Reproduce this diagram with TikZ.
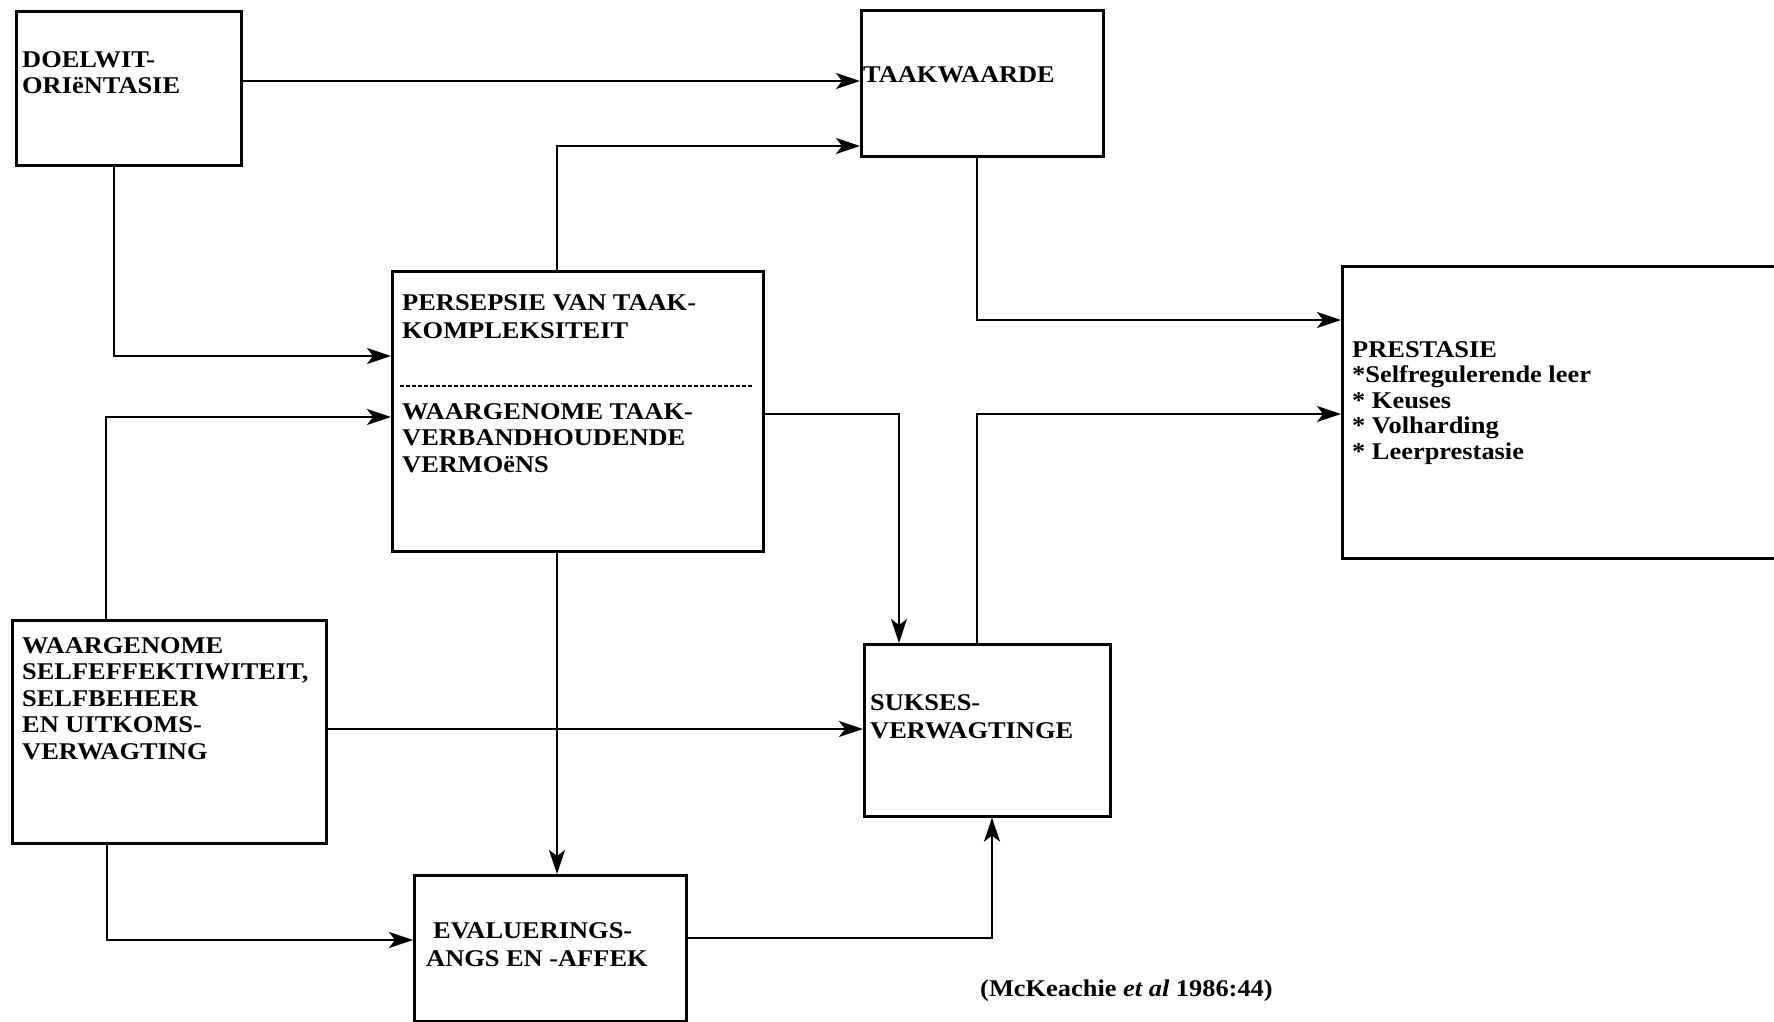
\documentclass[tikz,border=0pt]{standalone}
\usepackage{fontspec}
\setmainfont{Liberation Serif}[FakeStretch=1.1]
\usetikzlibrary{arrows.meta}
\begin{document}
\begin{tikzpicture}[x=1pt,y=-1pt,
  box/.style={draw, line width=2.6pt, inner sep=0pt, anchor=north west},
  lbl/.style={inner sep=0pt, anchor=base west, align=left, font=\bfseries\fontsize{24}{26.5}\selectfont},
  arr/.style={line width=2.4pt, -{Stealth[length=24pt,width=16pt,inset=6pt]}}]
\useasboundingbox (0,0) rectangle (1774,1022);
% boxes
\node[box, minimum width=225pt, minimum height=154pt] (doel) at (15,10) {};
\node[box, minimum width=242pt, minimum height=146pt] (taak) at (860,9) {};
\node[box, minimum width=371pt, minimum height=280pt] (pers) at (391,270) {};
\node[box, minimum width=470pt, minimum height=292pt] (pres) at (1341,265) {};
\node[box, minimum width=314pt, minimum height=223pt] (self) at (11,619) {};
\node[box, minimum width=246pt, minimum height=172pt] (suk) at (863,643) {};
\node[box, minimum width=272pt, minimum height=146pt] (eval) at (413,874) {};
% texts (anchor = baseline of the last line)
\node[lbl] (tdoel) at (22,94) {DOELWIT-\\ORIëNTASIE};
\node[lbl] (ttaak) at (863,83) {TAAKWAARDE};
\node[lbl, font=\bfseries\fontsize{24}{28}\selectfont] (tpers1) at (402,338) {PERSEPSIE VAN TAAK-\\KOMPLEKSITEIT};
\node[lbl] (tpers2) at (402,472) {WAARGENOME TAAK-\\VERBANDHOUDENDE\\VERMOëNS};
\node[lbl] (tself) at (22,759) {WAARGENOME\\SELFEFFEKTIWITEIT,\\SELFBEHEER\\EN UITKOMS-\\VERWAGTING};
\node[lbl, font=\bfseries\fontsize{24}{28}\selectfont] (tsuk) at (870,738) {SUKSES-\\VERWAGTINGE};
\node[lbl, font=\bfseries\fontsize{24}{28}\selectfont] (teval) at (426,966) {\hspace*{7pt}EVALUERINGS-\\ANGS EN -AFFEK};
\node[lbl, font=\bfseries\fontsize{24}{25.5}\selectfont] (tpres) at (1352,459) {PRESTASIE\\*Selfregulerende leer\\* Keuses\\* Volharding\\* Leerprestasie};
\node[lbl] (cite) at (980,996) {(McKeachie \textit{et al} 1986:44)};
% dashed separator
\draw[line width=1.6pt, dash pattern=on 4pt off 2pt] (400,386) -- (753,386);
% connectors
\draw[arr] (doel.east |- 0,81) -- (taak.west |- 0,81);
\draw[arr] (doel.south -| 114,0) |- (pers.west |- 0,356);
\draw[arr] (pers.north -| 557,0) |- (taak.west |- 0,146);
\draw[arr] (self.north -| 106,0) |- (pers.west |- 0,417);
\draw[arr] (pers.east |- 0,414) -| (suk.north -| 899,0);
\draw[arr] (pers.south -| 557,0) -- (eval.north -| 557,0);
\draw[arr] (self.east |- 0,729) -- (suk.west |- 0,729);
\draw[arr] (self.south -| 107,0) |- (eval.west |- 0,940);
\draw[arr] (eval.east |- 0,938) -| (suk.south -| 992,0);
\draw[arr] (suk.north -| 977,0) |- (pres.west |- 0,414);
\draw[arr] (taak.south -| 977,0) |- (pres.west |- 0,320);
\end{tikzpicture}
\end{document}
